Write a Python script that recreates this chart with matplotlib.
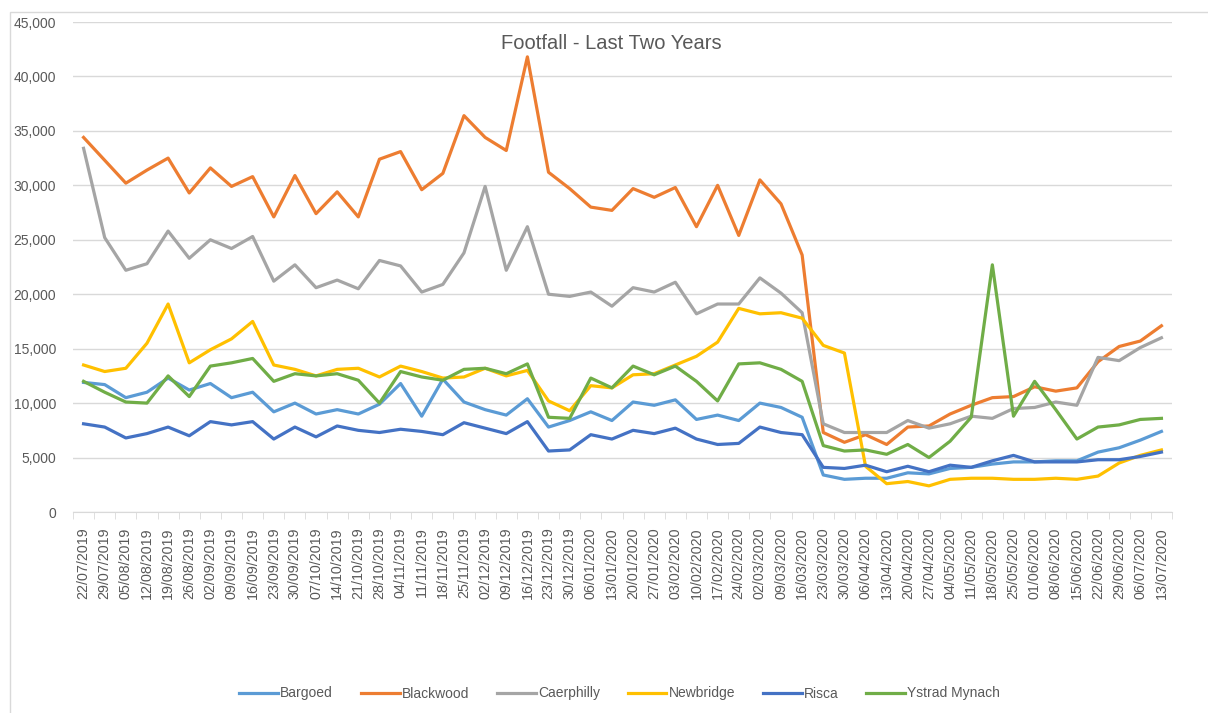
import matplotlib
matplotlib.use("Agg")
import matplotlib.pyplot as plt
import matplotlib.ticker as ticker
from matplotlib.patches import Rectangle

plt.rcParams["font.family"] = ["Liberation Sans", "DejaVu Sans"]

weeks = ["22/07/2019", "29/07/2019", "05/08/2019", "12/08/2019", "19/08/2019", "26/08/2019",
         "02/09/2019", "09/09/2019", "16/09/2019", "23/09/2019", "30/09/2019", "07/10/2019",
         "14/10/2019", "21/10/2019", "28/10/2019", "04/11/2019", "11/11/2019", "18/11/2019",
         "25/11/2019", "02/12/2019", "09/12/2019", "16/12/2019", "23/12/2019", "30/12/2019",
         "06/01/2020", "13/01/2020", "20/01/2020", "27/01/2020", "03/02/2020", "10/02/2020",
         "17/02/2020", "24/02/2020", "02/03/2020", "09/03/2020", "16/03/2020", "23/03/2020",
         "30/03/2020", "06/04/2020", "13/04/2020", "20/04/2020", "27/04/2020", "04/05/2020",
         "11/05/2020", "18/05/2020", "25/05/2020", "01/06/2020", "08/06/2020", "15/06/2020",
         "22/06/2020", "29/06/2020", "06/07/2020", "13/07/2020"]

bargoed = [11900, 11700, 10500, 11000, 12300, 11200, 11800, 10500, 11000, 9200, 10000, 9000,
           9400, 9000, 9900, 11800, 8800, 12200, 10100, 9400, 8900, 10400, 7800, 8400,
           9200, 8400, 10100, 9800, 10300, 8500, 8900, 8400, 10000, 9600, 8700, 3400,
           3000, 3100, 3100, 3600, 3500, 4000, 4100, 4400, 4600, 4600, 4700, 4700,
           5500, 5900, 6600, 7400]
blackwood = [34400, 32300, 30200, 31400, 32500, 29300, 31600, 29900, 30800, 27100, 30900, 27400,
             29400, 27100, 32400, 33100, 29600, 31100, 36400, 34400, 33200, 41800, 31200, 29700,
             28000, 27700, 29700, 28900, 29800, 26200, 30000, 25400, 30500, 28300, 23600, 7300,
             6400, 7100, 6200, 7800, 7900, 9000, 9800, 10500, 10600, 11500, 11100, 11400,
             13800, 15200, 15700, 17100]
caerphilly = [33400, 25200, 22200, 22800, 25800, 23300, 25000, 24200, 25300, 21200, 22700, 20600,
              21300, 20500, 23100, 22600, 20200, 20900, 23800, 29900, 22200, 26200, 20000, 19800,
              20200, 18900, 20600, 20200, 21100, 18200, 19100, 19100, 21500, 20100, 18300, 8100,
              7300, 7300, 7300, 8400, 7700, 8100, 8800, 8600, 9500, 9600, 10100, 9800,
              14200, 13900, 15100, 16000]
newbridge = [13500, 12900, 13200, 15500, 19100, 13700, 14900, 15900, 17500, 13500, 13100, 12500,
             13100, 13200, 12400, 13400, 12900, 12300, 12400, 13200, 12500, 13000, 10200, 9300,
             11600, 11400, 12600, 12700, 13500, 14300, 15600, 18700, 18200, 18300, 17800, 15300,
             14600, 4200, 2600, 2800, 2400, 3000, 3100, 3100, 3000, 3000, 3100, 3000,
             3300, 4500, 5200, 5700]
risca = [8100, 7800, 6800, 7200, 7800, 7000, 8300, 8000, 8300, 6700, 7800, 6900,
         7900, 7500, 7300, 7600, 7400, 7100, 8200, 7700, 7200, 8300, 5600, 5700,
         7100, 6700, 7500, 7200, 7700, 6700, 6200, 6300, 7800, 7300, 7100, 4100,
         4000, 4300, 3700, 4200, 3700, 4300, 4100, 4700, 5200, 4600, 4600, 4600,
         4800, 4800, 5100, 5500]
ystrad = [12000, 11000, 10100, 10000, 12500, 10600, 13400, 13700, 14100, 12000, 12700, 12500,
          12700, 12100, 10000, 12900, 12400, 12100, 13100, 13200, 12700, 13600, 8700, 8600,
          12300, 11400, 13400, 12600, 13400, 12000, 10200, 13600, 13700, 13100, 12000, 6100,
          5600, 5700, 5300, 6200, 5000, 6500, 8700, 22700, 8800, 12000, 9400, 6700,
          7800, 8000, 8500, 8600]

series = [
    ("Bargoed", bargoed, "#5B9BD5"),
    ("Blackwood", blackwood, "#ED7D31"),
    ("Caerphilly", caerphilly, "#A5A5A5"),
    ("Newbridge", newbridge, "#FFC000"),
    ("Risca", risca, "#4472C4"),
    ("Ystrad Mynach", ystrad, "#70AD47"),
]

TXT = "#595959"

fig = plt.figure(figsize=(12.08, 7.13), dpi=100)
ax = fig.add_axes([73 / 1208, 1 - 512 / 713, 1099 / 1208, 490 / 713])

# chart border like the Excel chart area
fig.add_artist(Rectangle((10 / 1208, -0.01), 1.2, 1 - 12 / 713 + 0.01, transform=fig.transFigure,
                         fill=False, edgecolor="#D9D9D9", linewidth=1))

x = list(range(len(weeks)))
for name, vals, col in series:
    ax.plot(x, vals, color=col, linewidth=2.3, label=name, solid_joinstyle="round")

ax.set_xlim(-0.5, len(weeks) - 0.5)
ax.set_ylim(0, 45000)
ax.yaxis.set_major_locator(ticker.MultipleLocator(5000))
ax.yaxis.set_major_formatter(ticker.FuncFormatter(lambda v, _: f"{v:,.0f}"))
ax.grid(axis="y", color="#D9D9D9", linewidth=1)
ax.set_axisbelow(True)

for s in ["top", "right", "left"]:
    ax.spines[s].set_visible(False)
ax.spines["bottom"].set_color("#D9D9D9")

ax.set_xticks(x)
ax.set_xticklabels(weeks, rotation=90, fontsize=10.3, color=TXT)
ax.set_xticks([i - 0.5 for i in range(len(weeks) + 1)], minor=True)
ax.tick_params(axis="x", which="major", length=0, pad=11)
ax.tick_params(axis="x", which="minor", length=5, color="#D9D9D9")
ax.tick_params(axis="y", length=0, labelsize=10, labelcolor=TXT, pad=12)

ax.text(0.49, 0.975, "Footfall - Last Two Years", transform=ax.transAxes, ha="center", va="top",
        fontsize=14.5, color=TXT)

leg = fig.legend(loc="lower center", bbox_to_anchor=(0.513, 0.0), ncol=6, frameon=False,
                 fontsize=10, labelcolor=TXT, handlelength=2.8, columnspacing=2.0, handletextpad=0.15)
# keep all legend entries on one line (descenders shift them otherwise)
leg._legend_handle_box.align = "top"

fig.savefig("out.png", dpi=100)
